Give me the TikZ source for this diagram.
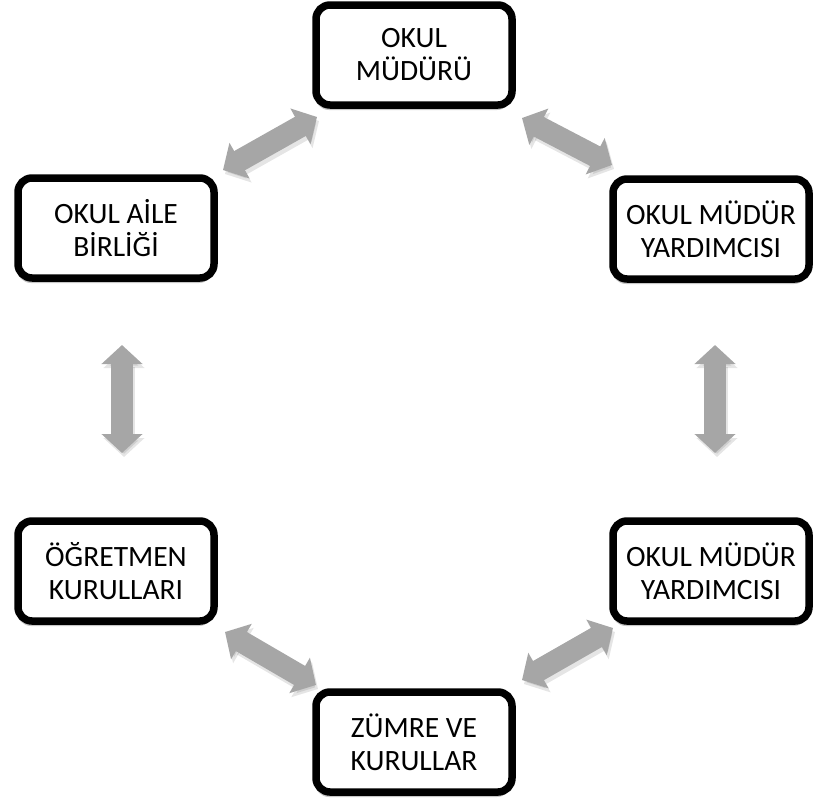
\documentclass[tikz,border=0pt]{standalone}
\usepackage{fontspec}
\setmainfont{Carlito}
\usetikzlibrary{arrows.meta,shadows}
\begin{document}
\begin{tikzpicture}[x=1pt,y=-1pt,
  box/.style={draw=black, line width=7.5pt, rounded corners=14pt, fill=white,
    minimum width=196pt, minimum height=100pt, align=center, inner sep=0pt,
    font=\fontsize{29.5}{33}\selectfont,
    drop shadow={shadow xshift=-1pt, shadow yshift=-5pt, opacity=0.22, fill=black}},
  tips/.style={{Triangle[width=40pt,length=19pt]}-{Triangle[width=40pt,length=19pt]}},
  link/.style={draw=black!35, line width=22pt, tips,
    preaction={draw=black, opacity=0.10, line width=22pt, tips,
      transform canvas={xshift=2pt,yshift=-4pt}}}]
\useasboundingbox (0,0) rectangle (813,803);
\node[box] (top) at (414,55) {OKUL\\MÜDÜRÜ};
\node[box] (lu) at (116,228) {OKUL AİLE\\BİRLİĞİ};
\node[box] (ru) at (711,229) {OKUL MÜDÜR\\YARDIMCISI};
\node[box] (ll) at (116,571) {ÖĞRETMEN\\KURULLARI};
\node[box] (rl) at (711,571) {OKUL MÜDÜR\\YARDIMCISI};
\node[box] (bot) at (414,742) {ZÜMRE VE\\KURULLAR};
\coordinate (a1) at (223,170); \coordinate (a2) at (317,117);
\coordinate (b1) at (522,118); \coordinate (b2) at (612,165);
\coordinate (c1) at (122,345); \coordinate (c2) at (122,453);
\coordinate (d1) at (715,345); \coordinate (d2) at (715,453);
\coordinate (e1) at (225,632); \coordinate (e2) at (316,685);
\coordinate (f1) at (522,680); \coordinate (f2) at (613,628);
\draw[link] (a1) -- (a2);
\draw[link] (b1) -- (b2);
\draw[link] (c1) -- (c2);
\draw[link] (d1) -- (d2);
\draw[link] (e1) -- (e2);
\draw[link] (f1) -- (f2);
\end{tikzpicture}
\end{document}
